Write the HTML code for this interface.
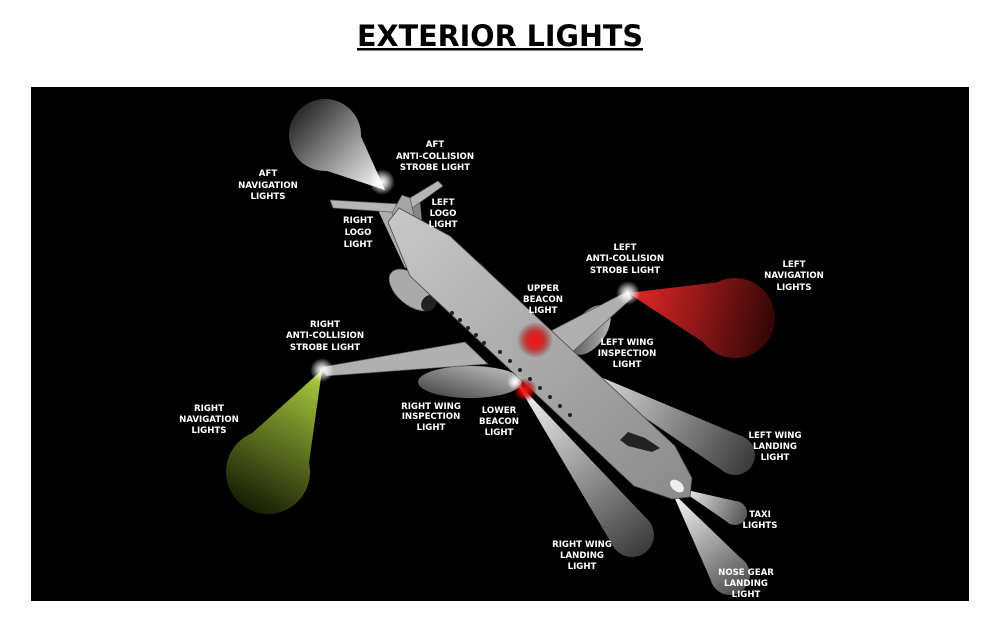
<!DOCTYPE html>
<html><head><meta charset="utf-8"><style>
html,body{margin:0;padding:0;background:#fff;width:1000px;height:625px;overflow:hidden}
svg{display:block}
.l{font-family:"DejaVu Sans","Liberation Sans",sans-serif;font-weight:bold;font-size:8.6px;fill:#fff;text-anchor:middle}
</style></head><body>
<svg width="1000" height="625" viewBox="0 0 1000 625" xmlns="http://www.w3.org/2000/svg">
<defs>
<linearGradient id="gAft" gradientUnits="userSpaceOnUse" x1="385" y1="190" x2="300" y2="110"><stop offset="0" stop-color="#fff"/><stop offset="1" stop-color="#2a2a2a"/></linearGradient>
<linearGradient id="gRed" gradientUnits="userSpaceOnUse" x1="628" y1="293" x2="775" y2="327"><stop offset="0" stop-color="#e82828"/><stop offset="1" stop-color="#300606"/></linearGradient>
<linearGradient id="gGreen" gradientUnits="userSpaceOnUse" x1="322" y1="370" x2="248" y2="510"><stop offset="0" stop-color="#b0d040"/><stop offset="1" stop-color="#151c04"/></linearGradient>
<linearGradient id="gL1" gradientUnits="userSpaceOnUse" x1="560" y1="360" x2="752" y2="465"><stop offset="0" stop-color="#fff"/><stop offset="1" stop-color="#3a3a3a"/></linearGradient>
<linearGradient id="gL2" gradientUnits="userSpaceOnUse" x1="515" y1="380" x2="645" y2="553"><stop offset="0" stop-color="#fff"/><stop offset="1" stop-color="#3a3a3a"/></linearGradient>
<linearGradient id="gT" gradientUnits="userSpaceOnUse" x1="678" y1="488" x2="746" y2="518"><stop offset="0" stop-color="#fff"/><stop offset="1" stop-color="#555"/></linearGradient>
<linearGradient id="gN" gradientUnits="userSpaceOnUse" x1="672" y1="492" x2="741" y2="591"><stop offset="0" stop-color="#fff"/><stop offset="1" stop-color="#505050"/></linearGradient>
<linearGradient id="gFus" x1="0" y1="0" x2="1" y2="1"><stop offset="0" stop-color="#c8c8c8"/><stop offset="1" stop-color="#8a8a8a"/></linearGradient>
<radialGradient id="glowR"><stop offset="0" stop-color="#ff1010"/><stop offset="0.5" stop-color="#d01010" stop-opacity="0.8"/><stop offset="1" stop-color="#800" stop-opacity="0"/></radialGradient>
<radialGradient id="glowW"><stop offset="0" stop-color="#fff"/><stop offset="0.4" stop-color="#fff" stop-opacity="0.7"/><stop offset="1" stop-color="#fff" stop-opacity="0"/></radialGradient>
<linearGradient id="gInsp" x1="1" y1="0" x2="0" y2="1"><stop offset="0" stop-color="#ddd"/><stop offset="1" stop-color="#444"/></linearGradient>
</defs>

<text x="500" y="46" font-family="'DejaVu Sans','Liberation Sans',sans-serif" font-weight="bold" font-size="29" text-anchor="middle" textLength="286" lengthAdjust="spacingAndGlyphs" fill="#000">EXTERIOR LIGHTS</text>
<rect x="357" y="48" width="286" height="2.5" fill="#000"/>

<rect x="31" y="87" width="938" height="514" fill="#000"/>

<!-- beams -->
<g>
<polygon points="385,190 347.9,107.2 302.1,162.8" fill="url(#gAft)"/>
<circle cx="325" cy="135" r="36" fill="url(#gAft)"/>
<polygon points="628,293 725.9,357 744.1,279" fill="url(#gRed)"/>
<circle cx="735" cy="318" r="40" fill="url(#gRed)"/>
<polygon points="322,370 305,491.7 230.9,452.3" fill="url(#gGreen)"/>
<circle cx="268" cy="472" r="42" fill="url(#gGreen)"/>
<polygon points="560,360 725.5,472.6 744.5,437.4" fill="url(#gL1)"/>
<circle cx="735" cy="455" r="20" fill="url(#gL1)"/>
<polygon points="515,380 614.4,548.3 649.6,521.7" fill="url(#gL2)"/>
<circle cx="632" cy="535" r="22" fill="url(#gL2)"/>
<polygon points="678,488 730.2,524 739.8,502" fill="url(#gT)"/>
<circle cx="735" cy="513" r="12" fill="url(#gT)"/>
<polygon points="672,492 713.6,586.5 746.4,563.5" fill="url(#gN)"/>
<circle cx="730" cy="575" r="20" fill="url(#gN)"/>
<!-- logo lights -->
<polygon points="378,210 395,208 420,262 405,268" fill="#ccc" opacity="0.85"/>
<polygon points="412,205 420,200 424,245 414,250" fill="#aaa" opacity="0.8"/>
<!-- inspection -->
<ellipse cx="470" cy="382" rx="52" ry="16" fill="url(#gInsp)" opacity="0.9"/>
<ellipse cx="590" cy="330" rx="16" ry="28" transform="rotate(35 590 330)" fill="url(#gInsp)" opacity="0.9"/>
</g>

<!-- tail -->
<polygon points="330,200 400,204 438,181 443,186 405,213 333,208" fill="#b5b5b5" stroke="#555" stroke-width="0.7"/>
<polygon points="392,213 402,195 410,198 425,262 410,268" fill="#a5a5a5" stroke="#555" stroke-width="0.7"/>
<!-- wings -->
<polygon points="465,342 488,364 326,376 322,367" fill="#b0b0b0" stroke="#555" stroke-width="0.7"/>
<polygon points="545,334 570,354 632,298 628,291" fill="#b0b0b0" stroke="#555" stroke-width="0.7"/>
<!-- engines -->
<ellipse cx="412" cy="290" rx="27" ry="15" transform="rotate(40 412 290)" fill="#aaa" stroke="#555" stroke-width="0.7"/>
<ellipse cx="429" cy="303" rx="7" ry="9" transform="rotate(40 429 303)" fill="#222"/>
<ellipse cx="472" cy="275" rx="25" ry="14" transform="rotate(40 472 275)" fill="#aaa" stroke="#555" stroke-width="0.7"/>
<ellipse cx="488" cy="288" rx="7" ry="9" transform="rotate(40 488 288)" fill="#222"/>
<!-- fuselage -->
<polygon points="399,208 450,236 675,446 692,478 690,497 672,499 634,486 410,276 388,222" fill="url(#gFus)" stroke="#444" stroke-width="0.8"/>
<!-- windows -->
<g fill="#222">
<circle cx="452" cy="313" r="2"/><circle cx="460" cy="320" r="2"/><circle cx="468" cy="328" r="2"/><circle cx="476" cy="335" r="2"/><circle cx="484" cy="343" r="2"/><circle cx="500" cy="352" r="2"/><circle cx="510" cy="361" r="2"/><circle cx="520" cy="370" r="2"/><circle cx="530" cy="379" r="2"/><circle cx="540" cy="388" r="2"/><circle cx="550" cy="397" r="2"/><circle cx="560" cy="406" r="2"/><circle cx="570" cy="415" r="2"/>
</g>
<polygon points="620,440 628,432 645,438 660,448 652,452 628,446" fill="#222"/>
<ellipse cx="677" cy="486" rx="8" ry="5" transform="rotate(40 677 486)" fill="#eee"/>
<!-- glows -->
<circle cx="535" cy="340" r="18" fill="url(#glowR)"/>
<circle cx="525" cy="390" r="12" fill="url(#glowR)"/>
<circle cx="382" cy="182" r="13" fill="url(#glowW)"/>
<circle cx="628" cy="293" r="12" fill="url(#glowW)"/>
<circle cx="322" cy="370" r="12" fill="url(#glowW)"/>
<circle cx="515" cy="382" r="8" fill="url(#glowW)"/>

<!-- labels -->
<g class="l">
<text x="268" y="176" class="l">AFT</text><text x="268" y="188" class="l">NAVIGATION</text><text x="268" y="199" class="l">LIGHTS</text>
<text x="435" y="147" class="l">AFT</text><text x="435" y="159" class="l">ANTI-COLLISION</text><text x="435" y="170" class="l">STROBE LIGHT</text>
<text x="358" y="223" class="l">RIGHT</text><text x="358" y="235" class="l">LOGO</text><text x="358" y="247" class="l">LIGHT</text>
<text x="443" y="205" class="l">LEFT</text><text x="443" y="216" class="l">LOGO</text><text x="443" y="227" class="l">LIGHT</text>
<text x="625" y="250" class="l">LEFT</text><text x="625" y="261" class="l">ANTI-COLLISION</text><text x="625" y="273" class="l">STROBE LIGHT</text>
<text x="794" y="267" class="l">LEFT</text><text x="794" y="278" class="l">NAVIGATION</text><text x="794" y="290" class="l">LIGHTS</text>
<text x="543" y="291" class="l">UPPER</text><text x="543" y="302" class="l">BEACON</text><text x="543" y="313" class="l">LIGHT</text>
<text x="325" y="327" class="l">RIGHT</text><text x="325" y="338" class="l">ANTI-COLLISION</text><text x="325" y="350" class="l">STROBE LIGHT</text>
<text x="627" y="345" class="l">LEFT WING</text><text x="627" y="356" class="l">INSPECTION</text><text x="627" y="367" class="l">LIGHT</text>
<text x="209" y="411" class="l">RIGHT</text><text x="209" y="422" class="l">NAVIGATION</text><text x="209" y="433" class="l">LIGHTS</text>
<text x="431" y="409" class="l">RIGHT WING</text><text x="431" y="419" class="l">INSPECTION</text><text x="431" y="430" class="l">LIGHT</text>
<text x="499" y="413" class="l">LOWER</text><text x="499" y="424" class="l">BEACON</text><text x="499" y="435" class="l">LIGHT</text>
<text x="775" y="438" class="l">LEFT WING</text><text x="775" y="449" class="l">LANDING</text><text x="775" y="460" class="l">LIGHT</text>
<text x="760" y="517" class="l">TAXI</text><text x="760" y="528" class="l">LIGHTS</text>
<text x="582" y="547" class="l">RIGHT WING</text><text x="582" y="558" class="l">LANDING</text><text x="582" y="569" class="l">LIGHT</text>
<text x="746" y="575" class="l">NOSE GEAR</text><text x="746" y="586" class="l">LANDING</text><text x="746" y="597" class="l">LIGHT</text>
</g>
</svg>
</body></html>
